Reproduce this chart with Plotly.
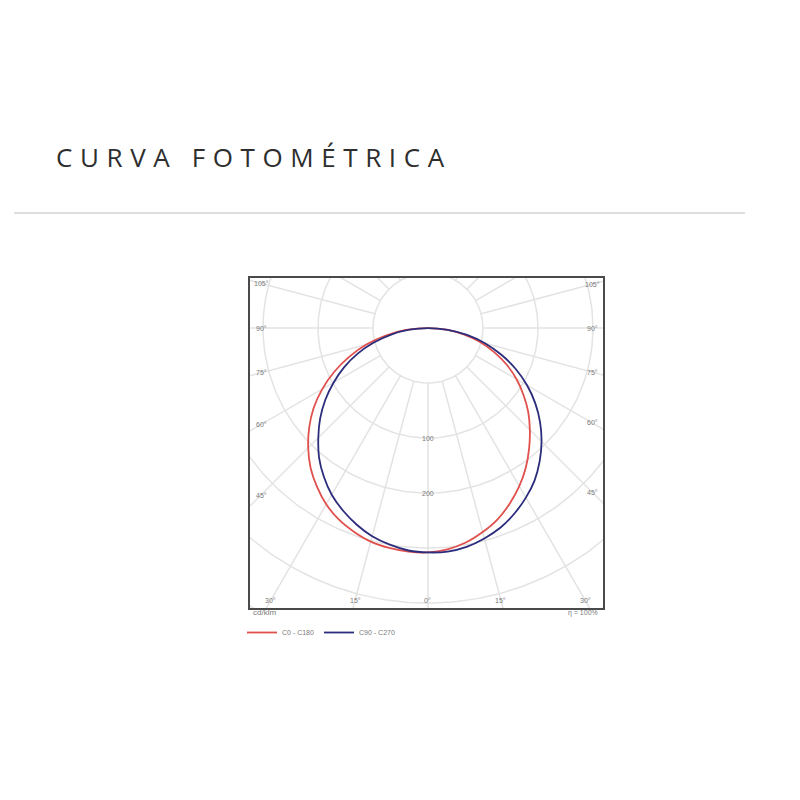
import numpy as np
import plotly.graph_objects as go

# photometric data, gamma measured from nadir (deg), intensity in cd/klm
gamma = [0, 5, 10, 15, 20, 25, 30, 35, 40, 45, 50, 55, 60, 65, 70, 75, 80, 85, 90]
c0 = [204, 202, 198, 192, 185, 176, 166, 155, 143, 131, 119, 106, 93, 79, 64, 49, 33, 17, 0]
c180 = [204, 204, 203, 201, 197, 192, 185, 176, 166, 154, 141, 127, 111, 94, 76, 58, 39, 20, 0]
c90 = [204, 204, 202, 198, 193, 186, 178, 169, 158, 146, 133, 119, 104, 88, 71, 54, 36, 18, 0]
c270 = [204, 203, 200, 196, 190, 183, 175, 165, 154, 141, 128, 114, 99, 84, 68, 51, 34, 17, 0]

ring_values = [50, 100, 150, 200, 250, 300]
ring_label_pos = [100, 150]
ring_label_text = ["100", "200"]
spoke_step = 15
side_angles = [105, 90, 75, 60, 45]
bottom_angles = [30, 15, 0]

# axis window (cd/klm), centre of the diagram at (0, 0)
x_min, x_max = -161.8, 159.1
y_min, y_max = -254.5, 45.5

grid_col = "#e3e3e3"
label_col = "#7a7a7a"

# page has an 8px body margin, so pixel positions are shifted back by it
OFF = 8


def px_x(p):
    return (p - OFF) / 800


def px_y(p):
    return 1 - (p - OFF) / 800


def half_curve(g, vals, side):
    g = np.radians(np.array(g, dtype=float))
    v = np.array(vals, dtype=float)
    return side * v * np.sin(g), -v * np.cos(g)


def curve(right, left):
    xr, yr = half_curve(gamma, right, 1)
    xl, yl = half_curve(gamma, left, -1)
    return np.concatenate([xl[::-1], xr[1:]]), np.concatenate([yl[::-1], yr[1:]])


fig = go.Figure()

# rings
t = np.linspace(0, 2 * np.pi, 361)
rx, ry = [], []
for r in ring_values:
    rx += list(r * np.cos(t)) + [None]
    ry += list(r * np.sin(t)) + [None]
fig.add_trace(go.Scatter(x=rx, y=ry, mode="lines", line=dict(color=grid_col, width=1.5),
                         hoverinfo="skip", showlegend=False))

# spokes, starting at the first ring
sx, sy = [], []
for a in range(0, 360, spoke_step):
    ar = np.radians(a)
    sx += [ring_values[0] * np.sin(ar), 500 * np.sin(ar), None]
    sy += [-ring_values[0] * np.cos(ar), -500 * np.cos(ar), None]
fig.add_trace(go.Scatter(x=sx, y=sy, mode="lines", line=dict(color=grid_col, width=1.5),
                         hoverinfo="skip", showlegend=False))

x0, y0 = curve(c0, c180)
fig.add_trace(go.Scatter(x=x0, y=y0, mode="lines", name="C0 - C180",
                         line=dict(color="#e0504c", width=1.8, shape="spline", smoothing=1.0)))
x1, y1 = curve(c90, c270)
fig.add_trace(go.Scatter(x=x1, y=y1, mode="lines", name="C90 - C270",
                         line=dict(color="#2c2c7c", width=1.8, shape="spline", smoothing=1.0)))

small = dict(family="Liberation Sans, Arial, sans-serif", size=7, color=label_col)

for pos, txt in zip(ring_label_pos, ring_label_text):
    fig.add_annotation(x=0, y=-pos, text=txt, showarrow=False, font=small)

inset = 10
for a in side_angles:
    ar = np.radians(a)
    for side, edge in ((-1, x_min), (1, x_max)):
        d = abs(edge) - inset
        r = d / np.sin(ar)
        fig.add_annotation(x=side * d, y=-r * np.cos(ar), text=f"{a}°", showarrow=False, font=small)

for a in bottom_angles:
    ar = np.radians(a)
    d = abs(y_min) - 7
    for side in ((-1, 1) if a else (1,)):
        fig.add_annotation(x=side * d * np.tan(ar), y=-d, text=f"{a}°", showarrow=False, font=small)

fig.add_annotation(xref="paper", yref="paper", x=px_x(251), y=px_y(619), text="cd/klm",
                   showarrow=False, xanchor="left", font=dict(small, size=8))
fig.add_annotation(xref="paper", yref="paper", x=px_x(600), y=px_y(619), text="η = 100%",
                   showarrow=False, xanchor="right", font=small)

fig.add_annotation(xref="paper", yref="paper", x=px_x(54), y=px_y(137), xanchor="left",
                   text='<span style="letter-spacing:7.6px">CURVA FOTOMÉTRICA</span>',
                   showarrow=False,
                   font=dict(family="Open Sans, sans-serif", size=26, color="#2e2e2e", weight=500))

fig.add_shape(type="line", xref="paper", yref="paper", x0=px_x(14), x1=px_x(745),
              y0=px_y(213), y1=px_y(213), line=dict(color="#dddddd", width=2))

fig.update_xaxes(range=[x_min, x_max], domain=[px_x(250), px_x(603)], showgrid=False,
                 zeroline=False, showticklabels=False, ticks="", showline=True, mirror=True,
                 linecolor="#4a4a4a", linewidth=1.5)
fig.update_yaxes(range=[y_min, y_max], domain=[px_y(608), px_y(278)], showgrid=False,
                 zeroline=False, showticklabels=False, ticks="", showline=True, mirror=True,
                 linecolor="#4a4a4a", linewidth=1.5)

fig.update_layout(
    width=800, height=800,
    margin=dict(l=0, r=0, t=0, b=0),
    paper_bgcolor="white", plot_bgcolor="white",
    legend=dict(orientation="h", x=px_x(242), y=px_y(618), xanchor="left", yanchor="top",
                font=dict(small, size=7), itemwidth=30, bgcolor="rgba(0,0,0,0)"),
)

fig.write_html("out.html")
